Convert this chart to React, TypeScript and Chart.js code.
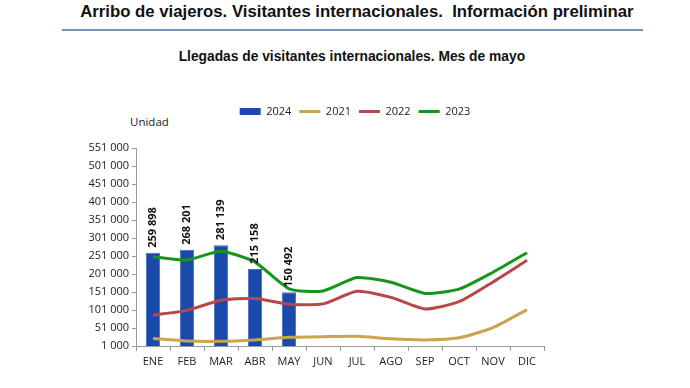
import React, { useEffect, useRef } from 'react';
import { Chart, registerables } from 'chart.js';

Chart.register(...registerables);

const categories = ['ENE', 'FEB', 'MAR', 'ABR', 'MAY', 'JUN', 'JUL', 'AGO', 'SEP', 'OCT', 'NOV', 'DIC'];
const visitors2024 = [259898, 268201, 281139, 215158, 150492];
const visitors2021 = [22000, 15000, 14000, 18000, 25000, 27000, 28000, 21000, 18000, 24000, 52000, 102000];
const visitors2022 = [87000, 100000, 128000, 133000, 117000, 118000, 153000, 136000, 104000, 124000, 179000, 239000];
const visitors2023 = [249000, 240000, 264000, 234000, 160000, 154000, 191000, 178000, 147000, 159000, 206000, 260000];
const yTickValues = [1000, 51000, 101000, 151000, 201000, 251000, 301000, 351000, 401000, 451000, 501000, 551000];
const seriesLabels = ['2024', '2021', '2022', '2023'];

const fmt = (n: number) => String(n).replace(/\B(?=(\d{3})+(?!\d))/g, ' ');

const LEGEND_EXTRA = 21;

export default function App() {
  const ref = useRef<HTMLCanvasElement | null>(null);

  useEffect(() => {
    document.body.style.margin = '0';
    if (!ref.current) return;
    const font = "'Open Sans', 'Liberation Sans', sans-serif";

    const legendSpacer = {
      id: 'legendSpacer',
      beforeUpdate(chart: any) {
        const lg = chart.legend;
        if (lg && !lg.__wrapped) {
          const orig = lg.fit;
          lg.fit = function () {
            orig.call(this);
            this.height += LEGEND_EXTRA;
          };
          lg.__wrapped = true;
        }
      },
    };

    const barLabels = {
      id: 'barLabels',
      afterDatasetsDraw(chart: any) {
        const meta = chart.getDatasetMeta(0);
        const ctx = chart.ctx;
        ctx.save();
        ctx.font = `bold 11px ${font}`;
        ctx.fillStyle = '#111';
        ctx.textAlign = 'left';
        ctx.textBaseline = 'middle';
        meta.data.forEach((el: any, i: number) => {
          ctx.save();
          ctx.translate(el.x, el.y - 5);
          ctx.rotate(-Math.PI / 2);
          ctx.fillText(fmt(visitors2024[i]), 0, 0);
          ctx.restore();
        });
        ctx.restore();
      },
    };

    const chart = new Chart(ref.current, {
      type: 'bar',
      data: {
        labels: categories,
        datasets: [
          {
            type: 'bar',
            label: seriesLabels[0],
            data: visitors2024,
            backgroundColor: '#1c4aab',
            borderColor: '#3f6cc4',
            borderWidth: 1,
            barPercentage: 0.42,
            categoryPercentage: 1,
            order: 2,
          },
          {
            type: 'line',
            label: seriesLabels[1],
            data: visitors2021,
            borderColor: '#caa44e',
            backgroundColor: '#caa44e',
            borderWidth: 3,
            pointRadius: 0,
            tension: 0.2,
            order: 1,
          },
          {
            type: 'line',
            label: seriesLabels[2],
            data: visitors2022,
            borderColor: '#b84848',
            backgroundColor: '#b84848',
            borderWidth: 3,
            pointRadius: 0,
            tension: 0.2,
            order: 1,
          },
          {
            type: 'line',
            label: seriesLabels[3],
            data: visitors2023,
            borderColor: '#15961a',
            backgroundColor: '#15961a',
            borderWidth: 3,
            pointRadius: 0,
            tension: 0.2,
            order: 1,
          },
        ] as any,
      },
      options: {
        animation: false,
        responsive: true,
        maintainAspectRatio: false,
        layout: { padding: { left: 20, right: 0, top: 98, bottom: 0 } },
        plugins: {
          tooltip: { enabled: false },
          legend: {
            position: 'top',
            labels: {
              font: { family: font, size: 11 },
              color: '#222',
              padding: 8,
              boxWidth: 21,
              boxHeight: 7,
              usePointStyle: true,
              pointStyleWidth: 21,
              generateLabels(chart: any) {
                return chart.data.datasets.map((ds: any, i: number) => ({
                  text: ds.label,
                  fillStyle: ds.backgroundColor,
                  strokeStyle: ds.type === 'line' ? ds.borderColor : ds.backgroundColor,
                  lineWidth: ds.type === 'line' ? 3 : 0,
                  pointStyle: ds.type === 'line' ? 'line' : 'rect',
                  hidden: false,
                  datasetIndex: i,
                  fontColor: '#222',
                }));
              },
            },
          },
        },
        scales: {
          x: {
            grid: { display: true, drawOnChartArea: false, drawTicks: true, tickLength: 5, offset: true, color: '#999' },
            border: { display: true, color: '#999', width: 1 },
            ticks: { font: { family: font, size: 11 }, color: '#222', padding: 4, maxRotation: 0 },
            afterFit(s: any) { s.height = 42; },
          },
          y: {
            min: 1000,
            max: 551000,
            grid: { display: true, drawOnChartArea: false, drawTicks: true, tickLength: 4, color: '#999' },
            border: { display: true, color: '#999', width: 1 },
            ticks: {
              font: { family: font, size: 11 },
              color: '#222',
              padding: 3,
              callback: (v: any) => fmt(Number(v)),
            },
            afterBuildTicks(s: any) { s.ticks = yTickValues.map((v) => ({ value: v })); },
            afterFit(s: any) { s.width = 116; },
          },
          yRight: {
            position: 'right',
            display: true,
            grid: { display: false },
            border: { display: false },
            ticks: { display: false },
            afterFit(s: any) { s.width = 146; },
          },
        },
      } as any,
      plugins: [legendSpacer, barLabels],
    });
    return () => chart.destroy();
  }, []);

  const sans = "'Liberation Sans', Arial, sans-serif";
  return (
    <div style={{ position: 'relative', width: 690, height: 388, background: '#fff', overflow: 'hidden' }}>
      <div style={{ position: 'absolute', left: 0, top: 2, width: 714, textAlign: 'center', fontFamily: sans, fontWeight: 'bold', fontSize: 17, color: '#111', whiteSpace: 'pre' }}>
        <span style={{ display: 'inline-block', transform: 'scaleX(0.985)' }}>
          {'Arribo de viajeros. Visitantes internacionales.  Información preliminar'}
        </span>
      </div>
      <div style={{ position: 'absolute', left: 62, top: 29, width: 581, height: 2, background: '#7393b5' }} />
      <div style={{ position: 'absolute', left: 0, top: 48, width: 704, textAlign: 'center', fontFamily: sans, fontWeight: 'bold', fontSize: 14, color: '#111', whiteSpace: 'pre' }}>
        <span style={{ display: 'inline-block', transform: 'scaleX(0.985)' }}>
          {'Llegadas de visitantes internacionales. Mes de mayo'}
        </span>
      </div>
      <div style={{ position: 'absolute', left: 130, top: 114, fontFamily: "'Open Sans', sans-serif", fontSize: 11.5, color: '#222' }}>Unidad</div>
      <div style={{ position: 'absolute', left: 0, top: 0, width: 690, height: 388 }}>
        <canvas ref={ref} />
      </div>
    </div>
  );
}
